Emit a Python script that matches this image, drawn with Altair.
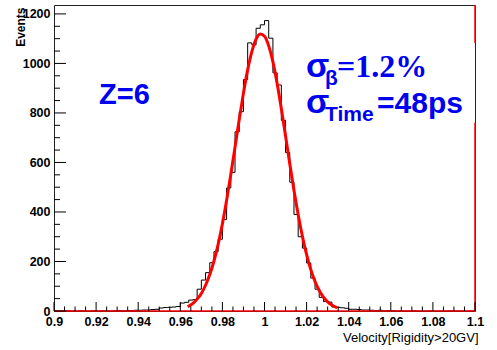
import altair as alt
import pandas as pd

# ---------------- data ----------------
bin_start = 0.9
bin_width = 0.002
counts = [
    0, 0, 0, 1, 0, 0, 1, 0, 0, 1,
    0, 1, 1, 0, 1, 2, 1, 2, 2, 3,
    3, 4, 4, 6, 7, 12, 14, 15, 16, 18,
    32, 35, 44, 46, 88, 125, 155, 195, 240, 290,
    370, 497, 560, 724, 805, 935, 1083, 1075, 1142, 1156,
    1173, 1102, 962, 913, 770, 640, 520, 390, 300, 254,
    194, 133, 88, 55, 38, 36, 16, 15, 13, 11,
    7, 7, 6, 4, 4, 3, 2, 3, 1, 2,
    1, 0, 1, 0, 0, 1, 0, 0, 0, 1,
    0, 0, 0, 0, 1, 0, 0, 0, 0, 0,
]

fit_x = [0.9635, 0.966, 0.968, 0.970, 0.972, 0.974, 0.976, 0.978, 0.980, 0.982,
         0.984, 0.986, 0.988, 0.990, 0.992, 0.994, 0.996, 0.998, 1.000, 1.002,
         1.004, 1.006, 1.008, 1.010, 1.012, 1.014, 1.016, 1.018, 1.020, 1.022,
         1.024, 1.026, 1.028, 1.030, 1.032, 1.0345]
fit_y = [17, 31, 48, 71, 104, 147, 202, 270, 352, 447,
         552, 662, 774, 880, 974, 1048, 1098, 1119, 1110, 1071,
         1006, 919, 817, 707, 595, 488, 389, 302, 228, 167,
         119, 83, 56, 37, 24, 13]

x_major = [0.9, 0.92, 0.94, 0.96, 0.98, 1.0, 1.02, 1.04, 1.06, 1.08, 1.1]
x_minor = [0.905, 0.91, 0.915, 0.925, 0.93, 0.935, 0.945, 0.95, 0.955,
           0.965, 0.97, 0.975, 0.985, 0.99, 0.995, 1.005, 1.01, 1.015,
           1.025, 1.03, 1.035, 1.045, 1.05, 1.055, 1.065, 1.07, 1.075,
           1.085, 1.09, 1.095]
y_major = [0, 200, 400, 600, 800, 1000, 1200]
y_minor = [50, 100, 150, 250, 300, 350, 450, 500, 550, 650, 700, 750,
           850, 900, 950, 1050, 1100, 1150]

X_DOMAIN = [0.9, 1.1]
Y_DOMAIN = [0, 1236]
W, H = 421, 306
BLUE = "#0000f0"
SANS = "Liberation Sans"
SERIF = "Liberation Serif"

edges = [bin_start + bin_width * i for i in range(len(counts))] + [bin_start + bin_width * len(counts)]
hist_df = pd.DataFrame({"x": edges, "n": counts + [counts[-1]]})
fit_df = pd.DataFrame({"x": fit_x, "n": fit_y})

xs = alt.Scale(domain=X_DOMAIN, nice=False, zero=False)
ys = alt.Scale(domain=Y_DOMAIN, nice=False, zero=False)

X_AXIS = alt.Axis(values=x_major, format="~g", ticks=False, domain=False, grid=False,
                  labelFont=SANS, labelFontWeight="bold", labelFontSize=12.5,
                  labelColor="black", labelPadding=4, labelFlush=False,
                  title="Velocity[Rigidity>20GV]", titleFont=SANS,
                  titleFontSize=13, titleFontWeight="normal", titleColor="black",
                  titleAnchor="end", titleAlign="right", titleBaseline="middle",
                  titleX=424, titleY=26)
Y_AXIS = alt.Axis(values=y_major, format="d", ticks=False, domain=False, grid=False,
                  labelFont=SANS, labelFontWeight="bold", labelFontSize=12.5,
                  labelColor="black", labelPadding=4, labelFlush=False,
                  title="Events", titleFont=SANS, titleFontSize=12,
                  titleFontWeight="bold", titleColor="black",
                  titleAngle=270, titleAlign="right", titleBaseline="middle",
                  titleX=-34, titleY=2)


def X(field):
    return alt.X(field, scale=xs, axis=X_AXIS, title="Velocity[Rigidity>20GV]")


def Y(field):
    return alt.Y(field, scale=ys, axis=Y_AXIS, title="Events")


hist = alt.Chart(hist_df).mark_line(
    interpolate="step-after", color="black", strokeWidth=1
).encode(x=X("x:Q"), y=Y("n:Q"))

fit = alt.Chart(fit_df).mark_line(
    color="#ff0000", strokeWidth=3, interpolate="monotone"
).encode(x=X("x:Q"), y=Y("n:Q"))

red_df = pd.DataFrame({"x": [X_DOMAIN[0]], "x2": [X_DOMAIN[1]], "n": [0]})
base_red = alt.Chart(red_df).mark_rule(color="#ff0000", strokeWidth=1.5).encode(
    x=X("x:Q"), x2="x2:Q", y=Y("n:Q"))

right_df = pd.DataFrame({"x": [X_DOMAIN[1], X_DOMAIN[1]], "n": [0, 1083], "n2": [760, Y_DOMAIN[1]]})
right_red = alt.Chart(right_df).mark_rule(color="#ff0000", strokeWidth=1.5).encode(
    x=X("x:Q"), y=Y("n:Q"), y2="n2:Q")


def yticks(vals, length):
    return alt.Chart(pd.DataFrame({"n": vals})).mark_rule(color="black", strokeWidth=1).encode(
        y=Y("n:Q"), x=alt.value(0), x2=alt.value(length))


def xticks(vals, length):
    return alt.Chart(pd.DataFrame({"x": vals})).mark_rule(color="black", strokeWidth=1).encode(
        x=X("x:Q"), y=alt.value(H), y2=alt.value(H - length))


one = pd.DataFrame({"a": [0]})


def label(text, px, py, size, font=SANS, weight="bold"):
    return alt.Chart(one).mark_text(
        text=text, align="left", baseline="alphabetic", font=font,
        fontSize=size, fontWeight=weight, color=BLUE,
    ).encode(x=alt.value(px - 54), y=alt.value(py - 5))


texts = [
    label("Z=6", 99, 104, 29),
    label("σ", 306, 77, 34),
    label("β", 325, 85, 21),
    label("=1.2%", 337, 77, 32, font=SERIF),
    label("σ", 306, 113, 34),
    label("Time", 325, 121, 21),
    label("=48ps", 377, 113, 30),
]

chart = alt.layer(
    hist, fit, base_red, right_red,
    yticks(y_major, 12), yticks(y_minor, 6),
    xticks(x_major, 9), xticks(x_minor, 4.5),
    *texts,
).properties(
    width=W, height=H,
    autosize=alt.AutoSizeParams(type="none"),
    padding={"left": 54, "top": 5, "right": 22, "bottom": 39},
    background="white",
).configure_view(stroke="#222222", strokeWidth=1)

chart.save("out.html", embed_options={"renderer": "svg", "actions": False})
